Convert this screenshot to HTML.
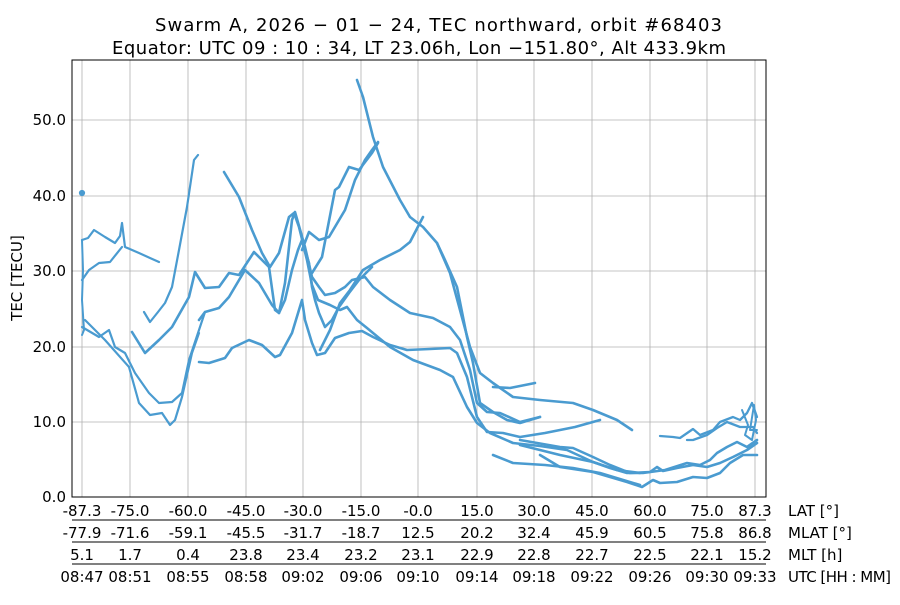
<!DOCTYPE html>
<html><head><meta charset="utf-8"><style>
body{margin:0;background:#fff;width:900px;height:600px;overflow:hidden}
text{font-family:"DejaVu Sans","Liberation Sans",sans-serif;fill:#000}
</style></head><body>
<svg width="900" height="600" xmlns="http://www.w3.org/2000/svg">
<text x="155" y="31" font-size="18" textLength="567" lengthAdjust="spacing">Swarm A,  2026 − 01 − 24,  TEC northward,  orbit #68403</text>
<text x="112" y="54" font-size="18" textLength="614" lengthAdjust="spacing">Equator:  UTC 09 : 10 : 34,  LT 23.06h,  Lon  −151.80°,  Alt 433.9km</text>
<g stroke="#b0b0b0" stroke-width="0.8">
<line x1="82" y1="60" x2="82" y2="497"/><line x1="130" y1="60" x2="130" y2="497"/><line x1="188" y1="60" x2="188" y2="497"/><line x1="246" y1="60" x2="246" y2="497"/><line x1="303" y1="60" x2="303" y2="497"/><line x1="361" y1="60" x2="361" y2="497"/><line x1="418" y1="60" x2="418" y2="497"/><line x1="477" y1="60" x2="477" y2="497"/><line x1="534" y1="60" x2="534" y2="497"/><line x1="592" y1="60" x2="592" y2="497"/><line x1="650" y1="60" x2="650" y2="497"/><line x1="707" y1="60" x2="707" y2="497"/><line x1="755" y1="60" x2="755" y2="497"/>
<line x1="72" y1="422" x2="766" y2="422"/><line x1="72" y1="347" x2="766" y2="347"/><line x1="72" y1="271" x2="766" y2="271"/><line x1="72" y1="196" x2="766" y2="196"/><line x1="72" y1="120" x2="766" y2="120"/>
</g>
<g fill="none" stroke="#4a9bd0" stroke-width="2.6" stroke-linejoin="round" stroke-linecap="round">
<polyline stroke-width="2.2" points="82,240 88,238 94,230 105,237 115,243 120,236 122,223 125,247 139,253 150,258 159,262"/>
<polyline stroke-width="2.2" points="82,280 89,270 99,263 110,262 122,247"/>
<polyline stroke-width="2" points="82,240 83,270 82,300 84,330 82,335"/>
<polyline stroke-width="2.2" points="82,327 99,337 109,330 115,347 125,353 135,373 149,393 159,403 172,402 182,393 189,360 199,330 205,312"/>
<polyline stroke-width="2.2" points="85,320 105,340 129,367 139,403 150,415 162,413 170,425 175,420 182,397 192,353 199,333"/>
<polyline stroke-width="2.2" points="144,312 150,322 158,312 165,303 172,287 179,250 187,207 194,160 198,155"/>
<polyline points="199,362 209,363 225,358 232,348 249,340 262,345 275,357 280,355 292,333 302,300 305,320 312,343 317,355 325,353 335,338 349,333 362,331 373,337 390,345 407,350 430,349 450,348 457,353 467,377 477,417 487,432 503,433 520,437 545,433 575,427 600,420"/>
<polyline points="132,332 145,353 159,340 172,327 189,297 195,272 205,288 219,287 229,273 239,275 254,252 269,267 275,310 279,313 285,283 292,220 295,212 305,247 312,277 319,287 325,295 335,293 345,287 352,280 365,277 373,287 390,300 410,313 433,318 450,327 460,340 470,370 477,403 487,412 500,413 520,422 540,417"/>
<polyline points="199,320 205,312 219,308 229,297 245,270 259,283 272,305 279,313 285,300 292,270 298,250 302,240 307,260 312,285 318,300 330,305 340,310 347,307 357,320 367,328 390,347 413,360 440,370 453,377 467,407 477,423 490,433 513,443 540,446 567,450 593,462 617,470 640,473"/>
<polyline points="320,350 330,330 340,303 350,290 363,270 380,260 400,250 410,242 423,217"/>
<polyline points="302,250 309,232 319,240 329,237 345,210 355,180 365,160 372,150 378,142"/>
<polyline points="312,273 322,257 335,190 339,187 349,167 359,170 372,153 378,143"/>
<polyline points="224,172 239,197 252,230 262,253 270,267 279,253 284,235 289,217 294,213 299,227 304,247 309,263 312,287 315,300 319,313 325,327 332,320 339,307 349,293 359,280 372,267"/>
<polyline points="357,80 363,97 373,137 383,167 400,200 410,217 423,227 437,243 450,273 460,310 470,347 480,373 493,383 513,397 540,400 573,403 593,410 617,420 632,430"/>
<polyline points="437,243 445,260 457,287 467,337 473,363 480,403 493,412 507,420 520,423 540,417"/>
<polyline points="493,387 510,388 525,385 535,383"/>
<polyline points="493,455 513,463 545,465 573,468 600,473 640,485"/>
<polyline points="520,440 560,447 573,448 593,457 610,465 630,473 650,472 657,467 663,471 677,468 693,465 707,467 720,463 733,457 747,450 757,443"/>
<polyline points="520,445 560,455 593,462 610,468 627,473 643,473 665,470 687,463 700,465 710,460 717,453 727,447 737,442 747,447 757,440"/>
<polyline points="540,455 560,467 593,472 627,482 642,487 653,480 660,483 677,482 693,477 707,478 720,473 730,463 743,455 757,455"/>
<polyline stroke-width="2.3" points="660,436 673,437 680,438 693,429 700,435 713,430 720,422 733,417 740,420 747,413 752,403 757,417"/>
<polyline stroke-width="2.3" points="687,440 693,440 707,435 717,428 727,422 740,427 753,427 757,433"/>
<polyline stroke-width="2" points="742,410 748,425 745,435 752,440 756,420 754,405 750,430 757,430"/>
<circle cx="82" cy="193" r="1.8" fill="#4a9bd0"/>
</g>
<rect x="72" y="60" width="694" height="437" fill="none" stroke="#000" stroke-width="1"/>
<g font-size="15" text-anchor="end">
<text x="66" y="502">0.0</text><text x="66" y="427">10.0</text><text x="66" y="352">20.0</text><text x="66" y="276">30.0</text><text x="66" y="201">40.0</text><text x="66" y="125">50.0</text>
</g>
<text transform="translate(22,278) rotate(-90)" font-size="15" text-anchor="middle">TEC [TECU]</text>
<g stroke="#000" stroke-width="1"><line x1="72" y1="520" x2="766" y2="520"/><line x1="72" y1="542" x2="766" y2="542"/><line x1="72" y1="564" x2="766" y2="564"/></g>
<g font-size="15" text-anchor="middle">
<text x="82" y="516">-87.3</text><text x="130" y="516">-75.0</text><text x="188" y="516">-60.0</text><text x="246" y="516">-45.0</text><text x="303" y="516">-30.0</text><text x="361" y="516">-15.0</text><text x="418" y="516">-0.0</text><text x="477" y="516">15.0</text><text x="534" y="516">30.0</text><text x="592" y="516">45.0</text><text x="650" y="516">60.0</text><text x="707" y="516">75.0</text><text x="755" y="516">87.3</text>
<text x="82" y="538">-77.9</text><text x="130" y="538">-71.6</text><text x="188" y="538">-59.1</text><text x="246" y="538">-45.5</text><text x="303" y="538">-31.7</text><text x="361" y="538">-18.7</text><text x="418" y="538">12.5</text><text x="477" y="538">20.2</text><text x="534" y="538">32.4</text><text x="592" y="538">45.9</text><text x="650" y="538">60.5</text><text x="707" y="538">75.8</text><text x="755" y="538">86.8</text>
<text x="82" y="560">5.1</text><text x="130" y="560">1.7</text><text x="188" y="560">0.4</text><text x="246" y="560">23.8</text><text x="303" y="560">23.4</text><text x="361" y="560">23.2</text><text x="418" y="560">23.1</text><text x="477" y="560">22.9</text><text x="534" y="560">22.8</text><text x="592" y="560">22.7</text><text x="650" y="560">22.5</text><text x="707" y="560">22.1</text><text x="755" y="560">15.2</text>
<text x="82" y="582">08:47</text><text x="130" y="582">08:51</text><text x="188" y="582">08:55</text><text x="246" y="582">08:58</text><text x="303" y="582">09:02</text><text x="361" y="582">09:06</text><text x="418" y="582">09:10</text><text x="477" y="582">09:14</text><text x="534" y="582">09:18</text><text x="592" y="582">09:22</text><text x="650" y="582">09:26</text><text x="707" y="582">09:30</text><text x="755" y="582">09:33</text>
</g>
<g font-size="15">
<text x="788" y="516">LAT [°]</text><text x="788" y="538">MLAT [°]</text><text x="788" y="560">MLT [h]</text><text x="788" y="582" textLength="103" lengthAdjust="spacing">UTC [HH : MM]</text>
</g>
</svg>
</body></html>
